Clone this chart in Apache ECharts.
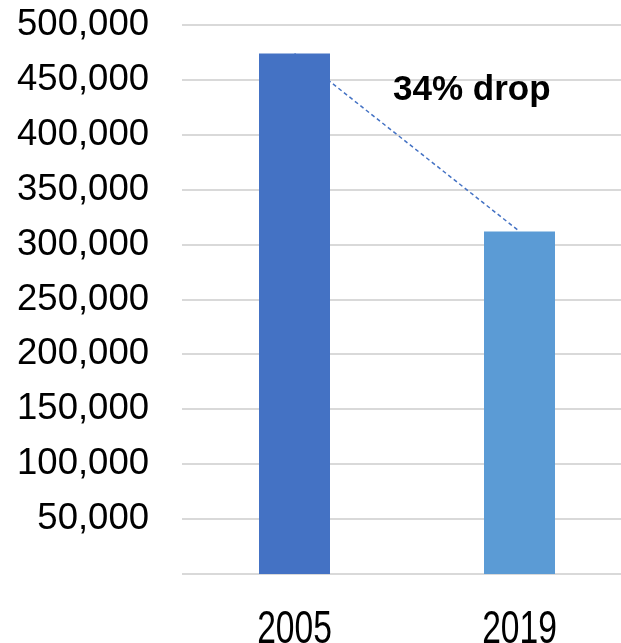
<!DOCTYPE html>
<html>
<head>
<meta charset="utf-8">
<script src="https://cdn.jsdelivr.net/npm/echarts@6/dist/echarts.min.js"></script>
<style>
html,body{margin:0;padding:0;background:#fff;overflow:hidden;}
#c{width:621px;height:643px;}
</style>
</head>
<body>
<div id="c"></div>
<script>
const categories = ['2005', '2019'];
const values = [474000, 312000];
const yTicks = [0, 50000, 100000, 150000, 200000, 250000, 300000, 350000, 400000, 450000, 500000];
const barColors = ['#4472C4', '#5B9BD5'];
const annotation = '34% drop';

const chart = echarts.init(document.getElementById('c'), null, {renderer: 'canvas'});
chart.setOption({
  animation: false,
  grid: {left: 182, width: 450, top: 25, bottom: 69, containLabel: false, outerBoundsMode: 'none'},
  xAxis: {
    type: 'category',
    data: categories,
    axisLine: {show: false},
    axisTick: {show: false},
    axisLabel: {show: false}
  },
  yAxis: {
    type: 'value',
    min: yTicks[0],
    max: yTicks[yTicks.length - 1],
    interval: yTicks[1] - yTicks[0],
    axisLine: {show: false},
    axisTick: {show: false},
    splitLine: {show: false},
    axisLabel: {
      fontFamily: '"Liberation Sans", Arial, sans-serif',
      fontSize: 36.5,
      color: '#000',
      margin: 33,
      formatter: function (v) { return v === 0 ? '' : v.toLocaleString('en-US'); }
    }
  },
  series: [
    {
      type: 'line',
      data: values,
      z: 1,
      symbol: 'none',
      lineStyle: {color: '#4472C4', width: 1.5, type: [4, 3]}
    },
    {
      type: 'bar',
      z: 2,
      barWidth: 71,
      data: values.map((v, i) => ({value: v, itemStyle: {color: barColors[i]}}))
    }
  ]
});

const gridLeft = chart.convertToPixel({xAxisIndex: 0}, categories[0]) - 112.5;
const W = chart.getWidth();
const graphics = [];
// horizontal gridlines from the y scale, behind the bars
yTicks.forEach(function (t) {
  const y = Math.round(chart.convertToPixel({yAxisIndex: 0}, t));
  graphics.push({
    type: 'line',
    z: 0,
    silent: true,
    shape: {x1: gridLeft, y1: y, x2: W, y2: y},
    style: {stroke: '#d9d9d9', lineWidth: 2}
  });
});
// narrow category labels, positioned through the axis scale
const baseY = chart.convertToPixel({yAxisIndex: 0}, 0);
categories.forEach(function (c) {
  const x = chart.convertToPixel({xAxisIndex: 0}, c);
  graphics.push({
    type: 'text',
    x: x,
    y: baseY + 33,
    scaleX: 0.73,
    style: {
      text: c,
      font: '46px "Liberation Sans", Arial, sans-serif',
      fill: '#000',
      align: 'center',
      verticalAlign: 'top'
    }
  });
});
graphics.push({
  type: 'text',
  left: 393,
  top: 73,
  style: {
    text: annotation,
    font: 'bold 35px "Liberation Sans", Arial, sans-serif',
    fill: '#000'
  }
});
chart.setOption({graphic: graphics});
</script>
</body>
</html>
